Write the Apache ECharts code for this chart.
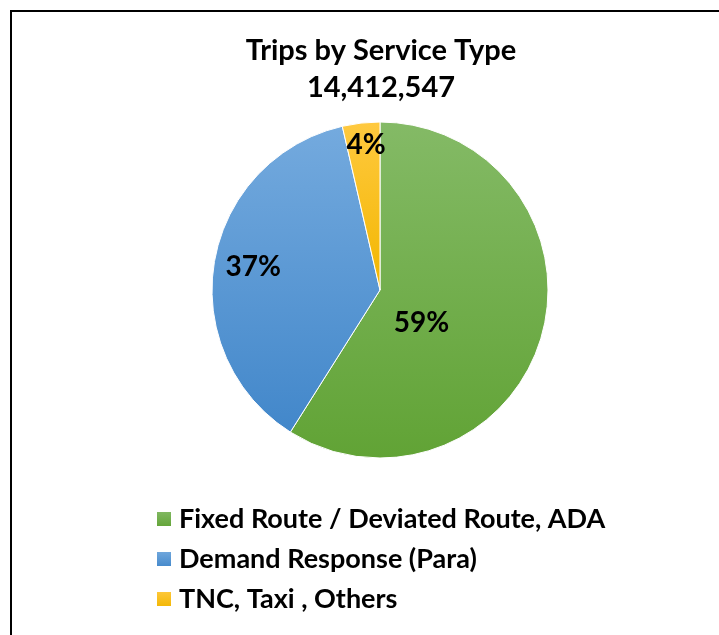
<!DOCTYPE html>
<html>
<head>
<meta charset="utf-8">
<script src="https://cdn.jsdelivr.net/npm/echarts@6/dist/echarts.min.js"></script>
<style>
  html, body { margin: 0; padding: 0; background: #fff; }
  #chart { width: 719px; height: 635px; }
</style>
</head>
<body>
<div id="chart"></div>
<script>
// 数据
const categories = ['Fixed Route / Deviated Route, ADA', 'Demand Response (Para)', 'TNC, Taxi , Others'];
const shares = [58.9, 37.4, 3.6];
const titleText = 'Trips by Service Type';
const totalTrips = '14,412,547';

// 渐变色 (上浅下深)
const topColors = ['#84ba66', '#74aade', '#ffc93f'];
const bottomColors = ['#61a335', '#4287ca', '#f2b600'];
// 标签相对默认位置的偏移
const labelShift = [[-42, 9], [-41, -8], [-4, -59]];

function grad(i) {
  return new echarts.graphic.LinearGradient(0, 0, 0, 1, [
    { offset: 0, color: topColors[i] },
    { offset: 1, color: bottomColors[i] }
  ]);
}

const chart = echarts.init(document.getElementById('chart'), null, { renderer: 'canvas' });

chart.setOption({
  backgroundColor: '#fff',
  animation: false,
  title: {
    text: titleText,
    subtext: totalTrips,
    left: 381,
    top: 35,
    textAlign: 'center',
    itemGap: 5,
    padding: 0,
    textStyle: { fontFamily: 'Lato', fontWeight: 'bold', fontSize: 29, color: '#000', lineHeight: 32 },
    subtextStyle: { fontFamily: 'Lato', fontWeight: 'bold', fontSize: 29, color: '#000', lineHeight: 32 }
  },
  legend: {
    orient: 'vertical',
    left: 155,
    top: 505,
    padding: 0,
    itemWidth: 16,
    itemHeight: 16,
    itemGap: 12,
    icon: 'rect',
    textStyle: { fontFamily: 'Lato', fontWeight: 'bold', fontSize: 27, color: '#000', lineHeight: 28, padding: [0, 0, 0, 2] },
    data: categories
  },
  graphic: [{
    type: 'polyline',
    shape: { points: [[11, 640], [11, 11], [730, 11]] },
    style: { stroke: '#000', lineWidth: 2, fill: null },
    silent: true
  }],
  series: [{
    type: 'pie',
    center: [380, 290],
    radius: 168,
    startAngle: 90,
    clockwise: true,
    percentPrecision: 0,
    label: {
      show: true,
      position: 'inside',
      formatter: '{d}%',
      fontFamily: 'Lato',
      fontWeight: 'bold',
      fontSize: 28,
      color: '#000'
    },
    labelLayout: function (p) {
      const s = labelShift[p.dataIndex];
      return { dx: s[0], dy: s[1] };
    },
    labelLine: { show: false },
    itemStyle: { borderColor: '#fff', borderWidth: 1 },
    emphasis: { disabled: true },
    data: categories.map((c, i) => ({
      name: c,
      value: shares[i],
      itemStyle: { color: grad(i) }
    }))
  }]
});
</script>
</body>
</html>
